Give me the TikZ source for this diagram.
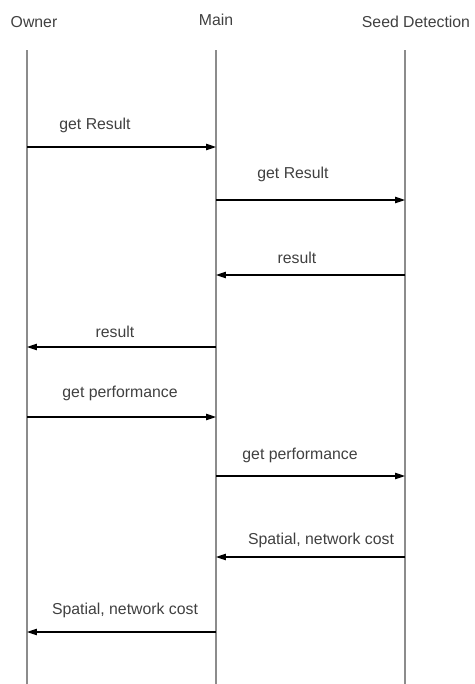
\documentclass[tikz,border=0pt]{standalone}
\usepackage{fontspec}
\setmainfont{Liberation Sans}
\usetikzlibrary{arrows.meta}

\tikzset{
	lifeline/.style={draw=black!45, line width=0.8pt},
	msg/.style={-{Triangle[length=2mm,width=1.3mm]}, line width=0.6pt},
	msglabel/.style={text=black!75}
}

\begin{document}
\begin{tikzpicture}[x=0.02cm, y=-0.02cm, font=\fontsize{9}{11}\selectfont]

\useasboundingbox (0,0) rectangle (475,684);

\node[msglabel] (owner) at (34,22) {Owner};
\node[msglabel] (main) at (216,20) {Main};
\node[msglabel] (seed) at (416,22) {Seed Detection};

\foreach \n/\x in {owner/27, main/216, seed/405}{
	\coordinate (\n top) at (\x,50);
	\coordinate (\n end) at (\x,684);
	\draw[lifeline] (\n top)--(\n end);
}

% messages between the lifelines
\foreach \i/\from/\to/\y in {1/owner/main/147, 2/main/seed/200, 3/seed/main/275, 4/main/owner/347,
	5/owner/main/417, 6/main/seed/476, 7/seed/main/557, 8/main/owner/632}{
	\path (\from top) ++(0,\y-50) coordinate (s\i);
	\path (\to top) ++(0,\y-50) coordinate (e\i);
	\draw[msg] (s\i)--(e\i);
}

\node[msglabel] (l1) at (95,125) {get Result};
\node[msglabel] (l2) at (293,174) {get Result};
\node[msglabel] (l3) at (297,258) {result};
\node[msglabel] (l4) at (115,332) {result};
\node[msglabel] (l5) at (120,393) {get performance};
\node[msglabel] (l6) at (300,455) {get performance};
\node[msglabel] (l7) at (321,540) {Spatial, network cost};
\node[msglabel] (l8) at (125,610) {Spatial, network cost};

\end{tikzpicture}
\end{document}
